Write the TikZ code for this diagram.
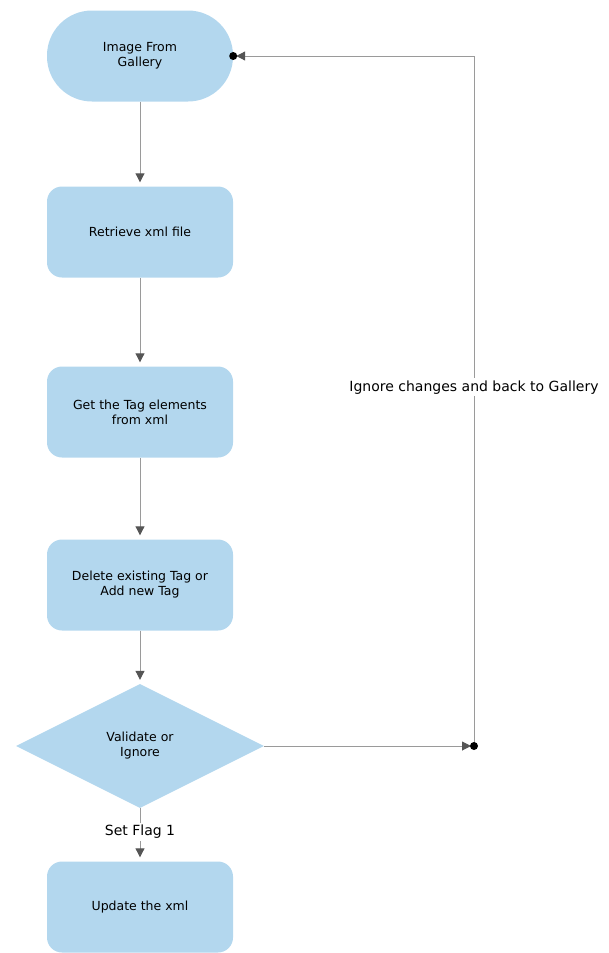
\documentclass[tikz,border=0pt]{standalone}
\usepackage{fontspec}
\setmainfont{DejaVu Sans}
\usetikzlibrary{arrows.meta,shapes.geometric}
\definecolor{boxblue}{HTML}{B3D7EE}
\definecolor{linegrey}{HTML}{9A9A9A}
\definecolor{tipgrey}{HTML}{555555}
\begin{document}
\begin{tikzpicture}[x=1pt,y=-1pt,
  font=\fontsize{12.5}{15}\selectfont,
  proc/.style={fill=boxblue, draw=none, rounded corners=15pt, minimum width=186pt, minimum height=91pt, align=center, inner sep=2pt},
  flow/.style={draw=linegrey, line width=1pt, -{Triangle[length=9pt,width=9pt,fill=tipgrey,color=tipgrey]}, shorten >=4pt},
  lbl/.style={fill=white, inner sep=2pt, font=\fontsize{14}{16}\selectfont},
  dot/.style={circle, fill=black, inner sep=0pt, minimum size=8pt}
]
\useasboundingbox (0,0) rectangle (608,953);
\node[proc, rounded corners=45pt] (start) at (140,56) {Image From\\Gallery};
\node[proc] (retr) at (140,232) {Retrieve xml file};
\node[proc] (gett) at (140,412) {Get the Tag elements\\from xml};
\node[proc] (del) at (140,585) {Delete existing Tag or\\Add new Tag};
\node[diamond, fill=boxblue, draw=none, minimum width=248pt, minimum height=124pt, inner sep=0pt, align=center, aspect=2] (dec) at (140,746) {Validate or\\Ignore};
\node[proc] (upd) at (140,907) {Update the xml};

\draw[flow] (start) -- (retr);
\draw[flow] (retr) -- (gett);
\draw[flow] (gett) -- (del);
\draw[flow] (del) -- (dec);
\draw[flow] (dec) -- node[lbl, pos=0.45] {Set Flag 1} (upd);

\coordinate (j) at (474,746);
\coordinate (s) at (start.east);
\draw[flow, shorten >=3pt] (dec.east) -- (j);
\draw[flow, shorten >=3pt] (j) -- node[lbl, pos=0.52] {Ignore changes and back to Gallery} (j |- s) -- (s);
\node[dot] (jd) at (j) {};
\node[dot] (sd) at (s) {};
\end{tikzpicture}
\end{document}
